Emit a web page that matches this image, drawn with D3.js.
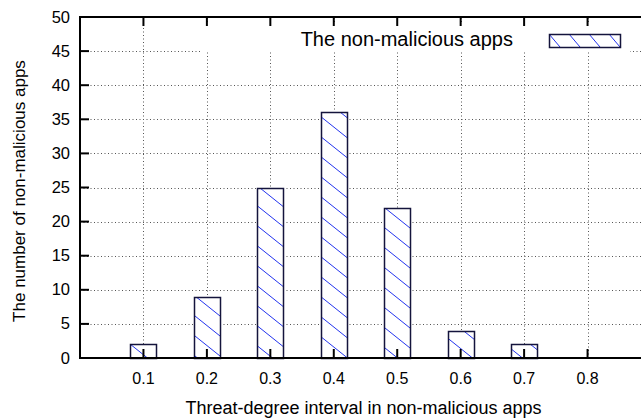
<!DOCTYPE html>
<html>
<head>
<meta charset="utf-8">
<script src="https://cdn.jsdelivr.net/npm/d3@7"></script>
<style>
	body { margin: 0; background: #fff; }
	text { font-family: "Liberation Sans", Arial, sans-serif; fill: #000; }
</style>
</head>
<body>
<script>
// data
var intervals = [0.1, 0.2, 0.3, 0.4, 0.5, 0.6, 0.7, 0.8];
var counts = [2, 9, 25, 36, 22, 4, 2, 0];
var yTicks = [0, 5, 10, 15, 20, 25, 30, 35, 40, 45, 50];
var seriesName = "The non-malicious apps";
var xTitle = "Threat-degree interval in non-malicious apps";
var yTitle = "The number of non-malicious apps";

var svgDims = {
	width: 641,
	height: 418,
	margin: { top: 17, left: 80 },
	plotBottom: 358,
	plotRight: 651
};

var svg = d3.select("body").append("svg")
	.attr("width", svgDims.width)
	.attr("height", svgDims.height);

var x = d3.scaleLinear().domain([0, 0.9]).range([svgDims.margin.left, svgDims.plotRight]);
var y = d3.scaleLinear().domain([0, 50]).range([svgDims.plotBottom, svgDims.margin.top]);

// hatch pattern
var defs = svg.append("defs");
var pat = defs.append("pattern")
	.attr("id", "hatch")
	.attr("patternUnits", "userSpaceOnUse")
	.attr("width", 25)
	.attr("height", 20);
pat.append("rect").attr("width", 25).attr("height", 20).attr("fill", "#fff");
pat.append("path")
	.attr("d", "M-5,-4 L30,24 M-5,16 L5,24 M20,-4 L30,4")
	.attr("stroke", "#2233ee")
	.attr("stroke-width", 1);

var legPat = defs.append("pattern")
	.attr("id", "hatchLeg")
	.attr("patternUnits", "userSpaceOnUse")
	.attr("x", 549).attr("y", 34)
	.attr("width", 20)
	.attr("height", 13);
legPat.append("rect").attr("width", 20).attr("height", 13).attr("fill", "#fff");
legPat.append("path")
	.attr("d", "M0,0 L11,13")
	.attr("stroke", "#2233ee")
	.attr("stroke-width", 1);

// grid
var grid = svg.append("g").attr("stroke", "#555").attr("stroke-width", 1).attr("stroke-dasharray", "1,2.5");
grid.selectAll(".hg").data(yTicks.filter(function(d) { return d > 0 && d < 50; }))
	.enter().append("line")
	.attr("x1", svgDims.margin.left).attr("x2", svgDims.plotRight)
	.attr("y1", function(d) { return Math.round(y(d)) + 0.5; })
	.attr("y2", function(d) { return Math.round(y(d)) + 0.5; });
grid.selectAll(".vg").data(intervals)
	.enter().append("line")
	.attr("x1", function(d) { return Math.round(x(d)) + 0.5; })
	.attr("x2", function(d) { return Math.round(x(d)) + 0.5; })
	.attr("y1", svgDims.plotBottom).attr("y2", svgDims.margin.top);

// legend background covers the grid
svg.append("rect")
	.attr("x", 200).attr("y", 22)
	.attr("width", 430).attr("height", 30)
	.attr("fill", "#fff");

// bars
var barW = 26;
svg.selectAll(".bar").data(counts)
	.enter().filter(function(d) { return d > 0; })
	.append("rect")
	.attr("x", function(d, i) { return Math.round(x(intervals[i]) - barW / 2) + 0.5; })
	.attr("y", function(d) { return Math.round(y(d)) + 0.5; })
	.attr("width", barW)
	.attr("height", function(d) { return Math.round(y(0)) - Math.round(y(d)); })
	.attr("fill", "url(#hatch)")
	.attr("stroke", "#14143c")
	.attr("stroke-width", 1.5);

// axes frame
var frame = svg.append("g").attr("stroke", "#000").attr("stroke-width", 2);
frame.append("line").attr("x1", svgDims.margin.left).attr("x2", svgDims.plotRight)
	.attr("y1", svgDims.plotBottom).attr("y2", svgDims.plotBottom);
frame.append("line").attr("x1", svgDims.margin.left).attr("x2", svgDims.plotRight)
	.attr("y1", svgDims.margin.top).attr("y2", svgDims.margin.top);
frame.append("line").attr("x1", svgDims.margin.left).attr("x2", svgDims.margin.left)
	.attr("y1", svgDims.margin.top - 1).attr("y2", svgDims.plotBottom + 1);

// ticks
frame.selectAll(".yt").data(yTicks).enter().append("line")
	.attr("x1", svgDims.margin.left).attr("x2", svgDims.margin.left + 9)
	.attr("y1", function(d) { return y(d); }).attr("y2", function(d) { return y(d); });
frame.selectAll(".xtb").data(intervals).enter().append("line")
	.attr("x1", function(d) { return x(d); }).attr("x2", function(d) { return x(d); })
	.attr("y1", svgDims.plotBottom).attr("y2", svgDims.plotBottom - 9);
frame.selectAll(".xtt").data(intervals).enter().append("line")
	.attr("x1", function(d) { return x(d); }).attr("x2", function(d) { return x(d); })
	.attr("y1", svgDims.margin.top).attr("y2", svgDims.margin.top + 9);

// tick labels
svg.selectAll(".ytl").data(yTicks).enter().append("text")
	.attr("x", 70)
	.attr("y", function(d) { return y(d) + 5.5; })
	.attr("text-anchor", "end")
	.attr("font-size", 16.5)
	.text(function(d) { return d; });
svg.selectAll(".xtl").data(intervals).enter().append("text")
	.attr("x", function(d) { return x(d); })
	.attr("y", 384)
	.attr("text-anchor", "middle")
	.attr("font-size", 16)
	.text(function(d) { return d3.format(".1f")(d); });

// axis titles
svg.append("text")
	.attr("x", x(0.45) - 2).attr("y", 414)
	.attr("text-anchor", "middle")
	.attr("font-size", 18)
	.text(xTitle);
svg.append("text")
	.attr("transform", "translate(25,191) rotate(-90)")
	.attr("text-anchor", "middle")
	.attr("font-size", 17)
	.text(yTitle);

// legend
svg.append("text")
	.attr("x", 513).attr("y", 46)
	.attr("text-anchor", "end")
	.attr("font-size", 20)
	.text(seriesName);
svg.append("rect")
	.attr("x", 549.5).attr("y", 34.5)
	.attr("width", 71).attr("height", 13)
	.attr("fill", "url(#hatchLeg)")
	.attr("stroke", "#14143c")
	.attr("stroke-width", 1.5);
</script>
</body>
</html>
